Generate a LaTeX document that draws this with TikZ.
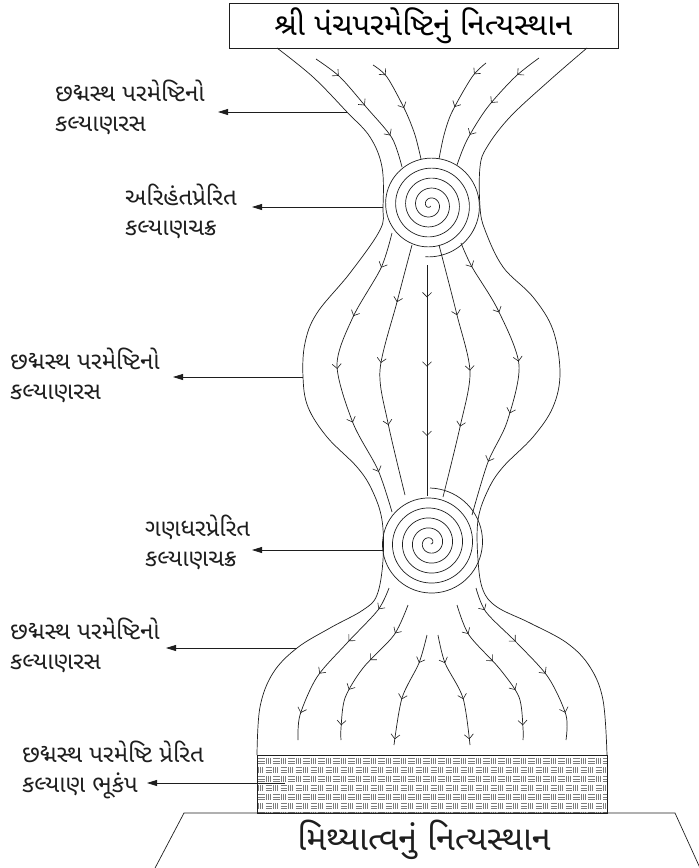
\documentclass[tikz,border=0pt]{standalone}
\usepackage{fontspec}
\newfontfamily\gujfont[Script=Gujarati]{Noto Sans Gujarati UI}
\usepackage{tikz}
\usetikzlibrary{positioning, arrows.meta, decorations.markings}
\definecolor{diagInk}{HTML}{1E1E1E}
\definecolor{hatchGray}{HTML}{7C7C7C}

\tikzset{
  flowline/.style={draw=diagInk, line width=0.7pt},
  flowarrows/.style={postaction={decorate, decoration={markings,
      mark=between positions #1 with {\arrow{Straight Barb[length=4.5pt,width=9pt,line width=0.6pt]}}}}},
  pointer/.style={draw=diagInk, line width=0.8pt, -{Triangle[length=10pt,width=6pt]}},
  lbl/.style={font=\gujfont\fontsize{24}{30}\selectfont, align=left, anchor=west, inner sep=0pt, text=diagInk},
  hatchline/.style={draw=hatchGray, line width=0.45pt},
}

\begin{document}
\begin{tikzpicture}[x=1pt, y=-1pt]
  \useasboundingbox (0,0) rectangle (699,868);
  % Titel oben
  \node[draw=diagInk, line width=0.8pt, minimum width=389pt, minimum height=45pt, inner sep=0pt,
        font=\gujfont\fontsize{31}{34}\selectfont] (topTitle) at (423.5,25.5) {શ્રી પંચપરમેષ્ટિનું નિત્યસ્થાન};

  % Umriss links / rechts
  \draw[flowline] plot[smooth, tension=0.6] coordinates {(277,48) (313,77) (347,112) (370,137) (382,167) (383,207)
    (380,230) (350,273) (317,313) (305,343) (303,377) (308,407) (327,437) (357,467) (372,490) (382,520)
    (383,560) (377,595) (363,610) (330,628) (297,648) (273,673) (260,707) (257,755)};
  \draw[flowline] plot[smooth, tension=0.6] coordinates {(587,48) (550,80) (510,117) (487,147) (480,167) (480,207)
    (485,230) (503,267) (533,297) (553,330) (560,373) (553,407) (533,437) (503,467) (488,490) (478,520)
    (478,560) (483,590) (497,607) (530,623) (567,643) (590,667) (603,700) (607,755)};

  % Kalyanachakra (Spiralen)
  \draw[flowline] plot[domain=40:1872, samples=400, variable=\t]
    ({430+\t/36*cos(\t-1777)}, {205+\t/36*sin(\t-1777)});
  \draw[flowline] plot[domain=40:1980, samples=400, variable=\t]
    ({430+\t/36*cos(1890-\t)}, {543+\t/36*sin(1890-\t)});

  % Fluss oben
  \draw[flowline, flowarrows={0.2 and 0.8 step 0.28}] plot[smooth] coordinates {(316,59) (340,77) (367,108) (392,138) (402,167)};
  \draw[flowline, flowarrows={0.15 and 0.55 step 0.35}] plot[smooth] coordinates {(373,65) (387,77) (405,110) (415,135) (421,159)};
  \draw[flowline, flowarrows={0.15 and 0.55 step 0.35}] plot[smooth] coordinates {(486,63) (472,77) (452,112) (444,135) (439,159)};
  \draw[flowline, flowarrows={0.2 and 0.8 step 0.28}] plot[smooth] coordinates {(539,58) (515,77) (487,108) (467,140) (457,165)};

  % Fluss mitte
  \draw[flowline, flowarrows={0.12 and 0.9 step 0.185}] plot[smooth] coordinates {(392,233) (381,268) (353,317) (337,365) (353,423) (378,470) (392,512)};
  \draw[flowline, flowarrows={0.23 and 0.75 step 0.245}] plot[smooth] coordinates {(412,245) (397,302) (380,370) (388,423) (405,495)};
  \draw[flowline, flowarrows={0.14 and 0.8 step 0.3}] (427,265) -- (427,496);
  \draw[flowline, flowarrows={0.28 and 0.75 step 0.22}] plot[smooth] coordinates {(439,245) (457,315) (470,372) (460,427) (443,497)};
  \draw[flowline, flowarrows={0.09 and 0.85 step 0.18}] plot[smooth] coordinates {(461,243) (472,267) (498,310) (519,365) (507,422) (488,462) (472,515)};

  % Fluss unten
  \draw[flowline, flowarrows={0.13 and 0.9 step 0.24}] plot[smooth] coordinates {(389,588) (378,610) (347,643) (317,677) (300,715) (298,740)};
  \draw[flowline, flowarrows={0.2 and 0.95 step 0.235}] plot[smooth] coordinates {(408,605) (394,635) (363,668) (345,698) (341,728) (341,740)};
  \draw[flowline, flowarrows={0.25 and 0.98 step 0.35}] plot[smooth] coordinates {(427,635) (419,663) (402,698) (394,745)};
  \draw[flowline, flowarrows={0.25 and 0.98 step 0.35}] plot[smooth] coordinates {(438,635) (445,663) (463,698) (470,745)};
  \draw[flowline, flowarrows={0.2 and 0.95 step 0.235}] plot[smooth] coordinates {(457,605) (469,635) (499,668) (519,697) (523,728) (523,740)};
  \draw[flowline, flowarrows={0.13 and 0.9 step 0.24}] plot[smooth] coordinates {(476,588) (486,612) (517,643) (548,677) (566,715) (566,740)};

  % Bhukamp (schraffiert)
  \begin{scope}
    \clip (257,755) rectangle (607,813);
    \foreach \r in {0,...,6} {
      \pgfmathsetmacro{\sh}{mod(\r,2)*7.5}
      \foreach \u in {-1,...,23} {
        \foreach \k in {0,1,2} {
          \draw[hatchline] ({257+\sh+\u*15+1}, {757+\r*9+1.6+\k*2.2}) -- ++(6.5,0);
          \draw[hatchline] ({257+\sh+\u*15+9+\k*2.1}, {757+\r*9+0.8}) -- ++(0,6.4);
        }
      }
    }
  \end{scope}
  \draw[flowline] (257,755) rectangle (607,813);

  % Sockel
  \draw[flowline] (154,870) -- (184,813) -- (675,813) -- (700,868);
  \node[font=\gujfont\fontsize{34}{36}\selectfont, text=diagInk] (baseTitle) at (424,840) {મિથ્યાત્વનું નિત્યસ્થાન};

  % Beschriftungen
  \node[lbl] (rasA) at (55,107) {છદ્મસ્થ પરમેષ્ટિનો\\કલ્યાણરસ};
  \node[lbl] (chakraA) at (125,211) {અરિહંતપ્રેરિત\\કલ્યાણચક્ર};
  \node[lbl] (rasB) at (10,375) {છદ્મસ્થ પરમેષ્ટિનો\\કલ્યાણરસ};
  \node[lbl] (chakraB) at (145,542) {ગણધરપ્રેરિત\\કલ્યાણચક્ર};
  \node[lbl] (rasC) at (10,645) {છદ્મસ્થ પરમેષ્ટિનો\\કલ્યાણરસ};
  \node[lbl] (bhukamp) at (22,770) {છદ્મસ્થ પરમેષ્ટિ પ્રેરિત\\કલ્યાણ ભૂકંપ};

  % Pfeile zu den Beschriftungen
  \coordinate (bA) at (347,112);  \coordinate (tA) at (218,112);
  \coordinate (bB) at (383,207);  \coordinate (tB) at (252,207);
  \coordinate (bC) at (303,377);  \coordinate (tC) at (173,377);
  \coordinate (bD) at (383,550);  \coordinate (tD) at (252,550);
  \coordinate (bE) at (297,648);  \coordinate (tE) at (166,648);
  \coordinate (bF) at (285,783);  \coordinate (tF) at (147,783);
  \foreach \p in {A,...,F} {
    \draw[pointer] (b\p) -- (t\p);
  }
\end{tikzpicture}
\end{document}
